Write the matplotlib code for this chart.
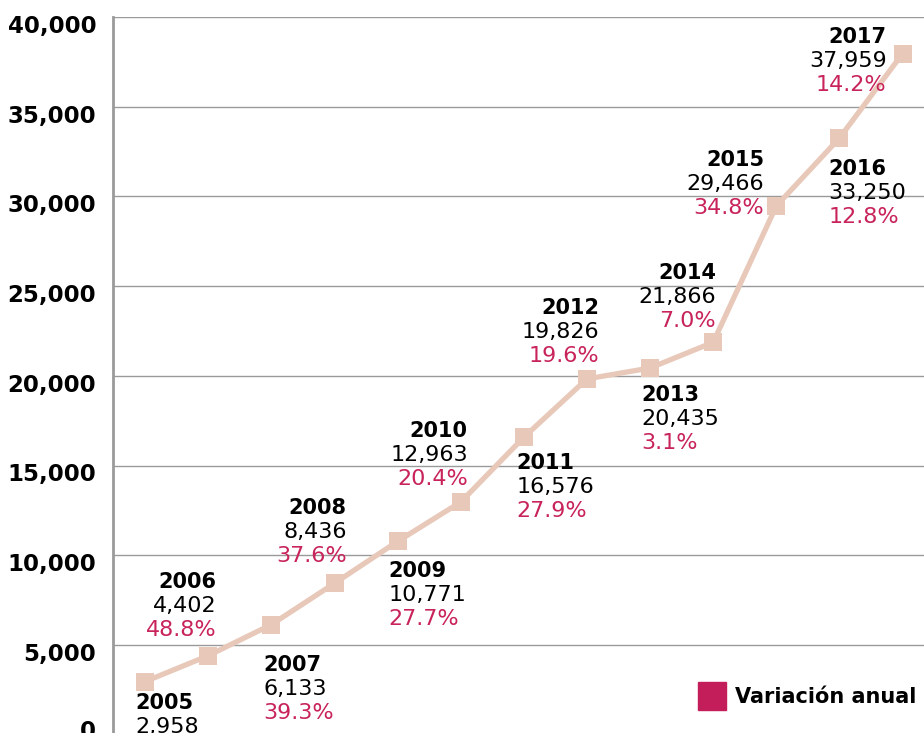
import matplotlib.pyplot as plt
import matplotlib.transforms as mtransforms
from matplotlib.patches import Rectangle

# Daten
years = ['2005', '2006', '2007', '2008', '2009', '2010', '2011',
         '2012', '2013', '2014', '2015', '2016', '2017']
values = [2958, 4402, 6133, 8436, 10771, 12963, 16576,
          19826, 20435, 21866, 29466, 33250, 37959]
variacion = ['', '48.8%', '39.3%', '37.6%', '27.7%', '20.4%', '27.9%',
             '19.6%', '3.1%', '7.0%', '34.8%', '12.8%', '14.2%']

# Lage der Beschriftungen relativ zum Punkt (Pixel): dx, dy, Ausrichtung
label_pos = [(-10, -21, 'left'), (8, 74, 'right'), (-8, -40, 'left'),
             (12, 75, 'right'), (-9, -30, 'left'), (7, 71, 'right'),
             (-7, -26, 'left'), (12, 71, 'right'), (-9, -27, 'left'),
             (3, 69, 'right'), (-12, 46, 'right'), (-11, -31, 'left'),
             (-16, 17, 'right')]

line_color = '#E8C8B9'
pct_color = '#C8235A'
font = 'DejaVu Sans'

fig = plt.figure(figsize=(9.24, 7.33), dpi=100)
ax = fig.add_axes([113 / 924, -1.6 / 733, 1 - 113 / 924, 1 - 15.4 / 733])

x = list(range(len(years)))
ax.plot(x, values, color=line_color, lw=3.8, marker='s', ms=12.5,
        markeredgewidth=0, zorder=3)

ax.set_xlim(-0.51, 12.34)
ax.set_ylim(0, 40000)
ax.set_yticks(range(0, 40001, 5000))
ax.set_yticklabels([f'{v:,}' for v in range(0, 40001, 5000)],
                   fontsize=16.5, fontweight='bold', family=font)
ax.tick_params(axis='y', length=0, pad=12)
ax.set_xticks([])
ax.grid(axis='y', color='#9a9a9a', lw=1)
ax.set_axisbelow(True)
for s in ['top', 'right', 'bottom']:
    ax.spines[s].set_visible(False)
ax.spines['left'].set_color('#9a9a9a')
ax.spines['left'].set_linewidth(2)

# Achsenbeschriftung etwas unterhalb der Gitterlinien
for lab in ax.get_yticklabels():
    shift = 6 if lab.get_text() == '0' else -7
    lab.set_transform(lab.get_transform() + mtransforms.ScaledTranslation(
        0, shift / 100, fig.dpi_scale_trans))

for i, (dx, dy, ha) in enumerate(label_pos):
    lines = [(years[i], 'black', 'bold', 15),
             (f'{values[i]:,}', 'black', 'normal', 16),
             (variacion[i], pct_color, 'normal', 16)]
    for k, (txt, col, fw, fs) in enumerate(lines):
        if not txt:
            continue
        ax.annotate(txt, (x[i], values[i]), xytext=(dx, dy - 24 * k),
                    textcoords='offset pixels', ha=ha, va='center',
                    fontsize=fs, color=col, fontweight=fw, family=font,
                    annotation_clip=False)

# Legende
fig.patches.append(Rectangle((698 / 924, 1 - 710 / 733), 28 / 924, 28 / 733,
                             transform=fig.transFigure, color='#C41E5A'))
fig.text(735 / 924, 1 - 697 / 733, 'Variación anual', fontsize=15,
         fontweight='bold', family=font, va='center', ha='left')

fig.savefig('out.png', dpi=100)
